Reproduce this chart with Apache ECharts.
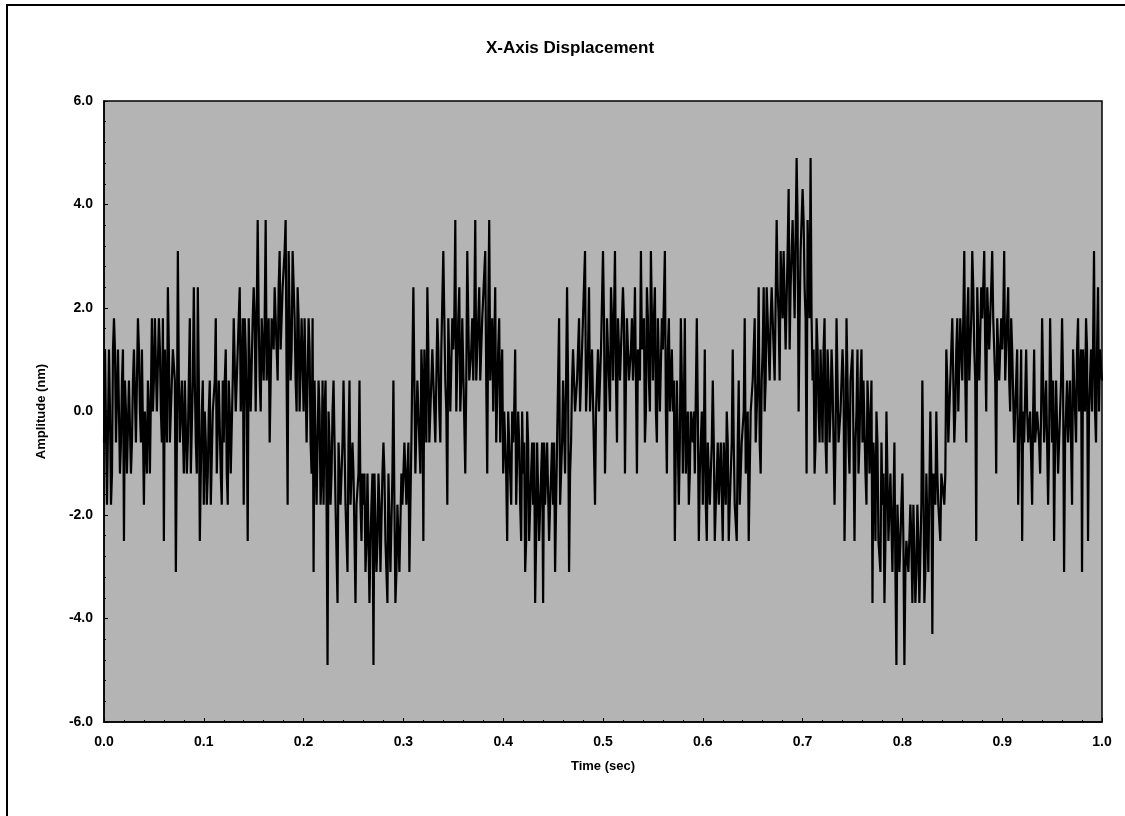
<!DOCTYPE html>
<html>
<head>
<meta charset="utf-8">
<script src="https://cdn.jsdelivr.net/npm/echarts@6/dist/echarts.min.js"></script>
<style>
  html, body { margin: 0; padding: 0; background: #ffffff; }
  #chart { width: 1125px; height: 816px; }
</style>
</head>
<body>
<div id="chart"></div>
<script>
// ---- Data ----
const chartTitle = 'X-Axis Displacement';
const xAxisName = 'Time (sec)';
const yAxisName = 'Amplitude (nm)';
const xTicks = [0.0, 0.1, 0.2, 0.3, 0.4, 0.5, 0.6, 0.7, 0.8, 0.9, 1.0];
const yTicks = [-6.0, -4.0, -2.0, 0.0, 2.0, 4.0, 6.0];
const samplePeriod = 0.001; // seconds between samples

// Amplitude samples (nm), 10 per 0.01 s block
const amplitude = [
  -0.6, 1.2, 1.2, -1.8, -1.8, 1.2, 0, -1.8, -1.2, 1.2,          // 0.00
  1.8, 1.2, -0.6, -0.6, 1.2, 1.2, -1.2, -0.6, 0.6, 1.2,         // 0.01
  -2.5, 0.6, 0, -1.2, -1.2, 0.6, 0.6, -1.2, -0.6, 0.6,          // 0.02
  1.2, 1.2, -0.6, -0.6, 1.8, 1.2, 0, -0.6, 1.2, 1.2,            // 0.03
  -1.8, 0, -0.6, -1.2, 0.6, 0, -1.2, -1.2, 1.8, 0,              // 0.04
  0.6, 1.8, 1.8, 0, 0, 1.8, 1.2, 0, -0.6, 1.8,                  // 0.05
  -2.5, 1.2, 1.2, -0.6, 2.4, 1.2, -0.6, -0.6, 0.6, 1.2,         // 0.06
  1.2, 0.6, -3.1, -0.6, 3.1, 0.6, -0.6, -0.6, 0.6, 0.6,         // 0.07
  -1.2, 0.6, 0.6, -1.2, -0.6, 0.6, 1.8, -1.2, -1.2, 0.6,        // 0.08
  2.4, 0.6, -0.6, -1.2, 2.4, 0.6, -2.5, -1.2, 0, 0.6,           // 0.09
  -1.8, 0, -0.6, -1.8, -1.2, 0, 0.6, -1.8, -1.8, 0,             // 0.10
  0, 0.6, 1.8, -1.2, -1.2, 0.6, 0.6, -1.2, -1.8, 0.6,           // 0.11
  -0.6, 0.6, 1.2, -1.2, -1.8, 0.6, 0, -1.2, -1.2, 0.6,          // 0.12
  1.8, 1.8, 0, 0, 1.2, 1.8, 2.4, 0, 0.6, 1.8,                   // 0.13
  -1.8, 1.8, 1.2, 0, -2.5, 1.8, 1.8, 0, 0, 1.8,                 // 0.14
  2.4, 1.8, 0, 0, 3.7, 1.8, 0.6, 0, 1.8, 1.8,                   // 0.15
  0.6, 1.8, 3.7, 0.6, 1.2, 1.8, -0.6, 0.6, 1.8, 1.8,            // 0.16
  1.2, 2.4, 2.4, 1.2, 0.6, 2.4, 3.1, 1.2, 1.8, 2.4,             // 0.17
  2.4, 3.1, 3.7, 0.6, -1.8, 3.1, 3.1, 0.6, 1.2, 3.1,            // 0.18
  3.1, 1.8, 0.6, 0, 2.4, 1.8, 0, 0, 1.8, 1.8,                   // 0.19
  0, 1.8, 1.8, -0.6, -0.6, 1.8, 1.2, -0.6, -1.2, 1.8,           // 0.20
  -3.1, 0.6, 0.6, -1.8, -1.8, 0.6, 0, -1.8, -1.2, 0.6,          // 0.21
  -1.8, 0, 0.6, -1.8, -4.9, 0, -0.6, -1.8, -1.2, 0,             // 0.22
  0.6, -0.6, -1.8, -1.8, -3.7, -0.6, -0.6, -1.8, -1.2, -0.6,    // 0.23
  0.6, -0.6, -1.8, -1.8, -3.1, -0.6, 0.6, -1.8, -1.2, -0.6,     // 0.24
  -1.2, -1.2, -3.7, -1.8, -1.8, -1.2, 0.6, -1.8, -2.5, -1.2,    // 0.25
  -1.8, -1.2, -3.1, -2.5, -1.2, -1.2, -3.7, -2.5, -1.8, -1.2,   // 0.26
  -4.9, -1.2, -1.2, -3.1, -2.5, -1.2, -1.8, -3.1, -3.1, -1.2,   // 0.27
  -0.6, -1.2, -2.5, -3.1, -3.7, -1.2, -1.2, -3.1, -3.1, -1.2,   // 0.28
  0.6, -1.8, -3.7, -3.1, -1.8, -1.8, -3.1, -3.1, -1.2, -1.8,    // 0.29
  -1.8, -0.6, -0.6, -1.8, -1.2, -0.6, -3.1, -1.8, -0.6, -0.6,   // 0.30
  2.4, 0.6, -1.2, -1.2, 0.6, 0.6, -0.6, -1.2, 1.2, 0.6,         // 0.31
  -2.5, 1.2, 1.2, -0.6, 2.4, 1.2, -0.6, -0.6, 0.6, 1.2,         // 0.32
  1.2, 1.2, -0.6, -0.6, 1.8, 1.2, 0, -0.6, 1.2, 1.2,            // 0.33
  3.1, 1.8, 0.6, 0, -1.8, 1.8, 1.8, 0, 0, 1.8,                  // 0.34
  1.2, 1.8, 3.7, 0, 0, 1.8, 2.4, 0, 0.6, 1.8,                   // 0.35
  1.8, 1.8, -1.2, 0.6, 3.1, 1.8, 0.6, 0.6, 1.2, 1.8,            // 0.36
  0.6, 1.8, 3.7, 0.6, 1.2, 1.8, 2.4, 0.6, 0.6, 1.8,             // 0.37
  1.8, 1.8, 3.1, 0.6, -1.2, 1.8, 3.7, 0.6, 1.2, 1.8,            // 0.38
  0, 1.2, 2.4, -0.6, -0.6, 1.2, 1.8, -0.6, 0.6, 1.2,            // 0.39
  -1.2, 0, 0, -1.2, -2.5, 0, -0.6, -1.2, -1.8, 0,               // 0.40
  -0.6, 0, 1.2, -1.8, -1.8, 0, -0.6, -1.8, -2.5, 0,             // 0.41
  -1.2, -0.6, -3.1, -2.5, 0, -0.6, -2.5, -2.5, -1.2, -0.6,      // 0.42
  -1.8, -0.6, -3.7, -2.5, -0.6, -0.6, -2.5, -2.5, -1.2, -0.6,   // 0.43
  -3.7, -0.6, -1.8, -1.8, -0.6, -0.6, -2.5, -1.8, -1.2, -0.6,   // 0.44
  -1.8, -0.6, -3.1, -1.8, -0.6, -0.6, 1.8, -1.8, -1.2, -0.6,    // 0.45
  0.6, 0.6, -1.2, -1.2, 2.4, 0.6, -3.1, -1.2, -0.6, 0.6,        // 0.46
  1.2, 1.2, 0, 0, 0.6, 1.2, 1.8, 0, 0, 1.2,                     // 0.47
  1.2, 1.2, 3.1, 0, 0, 1.2, 2.4, 0, 0.6, 1.2,                   // 0.48
  1.2, 1.2, -1.8, 0, 0.6, 1.2, 0, 0, 1.2, 1.2,                  // 0.49
  3.1, 1.8, -1.2, 0, 1.8, 1.8, 0.6, 0, 2.4, 1.8,                // 0.50
  0.6, 1.8, 3.1, 0.6, -0.6, 1.8, 1.8, 0.6, 1.2, 1.8,            // 0.51
  2.4, 1.8, -1.2, 0.6, 1.8, 1.8, 0.6, 0.6, 1.2, 1.8,            // 0.52
  0.6, 1.2, 2.4, 0.6, -1.2, 1.2, 1.2, 0.6, 3.1, 1.2,            // 0.53
  1.2, 1.8, -0.6, 0, 2.4, 1.8, 0.6, 0, 3.1, 1.8,                // 0.54
  0.6, 1.8, 2.4, 0, -0.6, 1.8, 1.8, 0, 0, 1.8,                  // 0.55
  1.2, 1.2, 3.1, 0, -1.2, 1.2, 1.8, 0, 0.6, 1.2,                // 0.56
  0, 0.6, -2.5, -0.6, 0.6, 0.6, -1.8, -0.6, 1.8, 0.6,           // 0.57
  -1.2, 0, 1.8, -1.2, -0.6, 0, -1.8, -1.2, 0, 0,                // 0.58
  -0.6, 0, -1.2, -1.2, 1.8, 0, -2.5, -1.2, -0.6, 0,             // 0.59
  -1.8, -0.6, 1.2, -1.8, -2.5, -0.6, -0.6, -1.8, -1.2, -0.6,    // 0.60
  0.6, -0.6, -2.5, -1.8, -1.2, -0.6, -1.8, -1.8, -0.6, -0.6,    // 0.61
  -2.5, -0.6, -1.2, -1.8, 0, -0.6, -2.5, -1.8, -1.8, -0.6,      // 0.62
  1.2, -0.6, -1.8, -1.8, -2.5, -0.6, 0.6, -1.8, -1.2, -0.6,     // 0.63
  -0.6, 0, 1.8, -1.2, -1.2, 0, -2.5, -1.2, 0, 0,                // 0.64
  0.6, 0.6, 1.8, -0.6, -0.6, 0.6, 2.4, -0.6, -1.2, 0.6,         // 0.65
  1.2, 2.4, 0, 0.6, 2.4, 2.4, 1.2, 0.6, 1.8, 2.4,               // 0.66
  2.4, 2.4, 0.6, 0.6, 3.7, 2.4, 1.8, 0.6, 3.1, 2.4,             // 0.67
  1.8, 3.1, 3.1, 1.2, 1.2, 3.1, 4.3, 1.2, 2.4, 3.1,             // 0.68
  3.7, 3.7, 1.8, 1.8, 4.9, 3.7, 0, 1.8, 3.1, 3.7,               // 0.69
  4.3, 3.7, 2.4, 1.8, -1.2, 3.7, 3.7, 1.8, 4.9, 1.8,            // 0.70
  0.6, 1.2, -1.2, -0.6, 1.8, 1.2, 0, -0.6, 1.2, 1.2,            // 0.71
  -0.6, 1.2, 1.8, -0.6, -1.2, 1.2, 0.6, -0.6, 0, 1.2,           // 0.72
  0.6, 0.6, -1.8, -0.6, 1.8, 0.6, -0.6, -0.6, 0, 0.6,           // 0.73
  1.2, 0.6, -2.5, -1.2, 1.8, 0.6, -0.6, -1.2, 0.6, 0.6,         // 0.74
  1.2, 1.2, -2.5, -0.6, 0, 1.2, -1.2, -0.6, 0.6, 1.2,           // 0.75
  -0.6, 0.6, 0.6, -1.2, -1.8, 0.6, 0, -1.2, -1.2, 0.6,          // 0.76
  -3.7, -0.6, -1.2, -2.5, 0, -0.6, -2.5, -2.5, -3.1, -0.6,      // 0.77
  -1.8, -1.2, -3.7, -2.5, 0, -1.2, -2.5, -2.5, -1.2, -1.2,      // 0.78
  -3.1, -1.8, -0.6, -3.1, -4.9, -1.8, -1.8, -3.1, -2.5, -1.8,   // 0.79
  -1.2, -2.5, -4.9, -3.1, -2.5, -2.5, -3.1, -3.1, -1.8, -2.5,   // 0.80
  -3.7, -1.8, -1.8, -3.7, -3.1, -1.8, -2.5, -3.7, -3.7, -1.8,   // 0.81
  0.6, -1.2, -3.7, -3.1, -1.2, -1.2, -3.1, -3.1, 0, -1.2,       // 0.82
  -4.3, -1.2, -1.2, -1.8, 0, -1.2, -1.8, -1.8, -2.5, -1.2,      // 0.83
  -1.2, -1.2, -1.8, -1.2, 1.2, 0.6, -0.6, -0.6, 0.6, 0.6,       // 0.84
  1.8, 1.8, -0.6, 0, 1.2, 1.8, 0, 0, 1.8, 1.8,                  // 0.85
  0.6, 1.8, 3.1, 0.6, -0.6, 1.8, 2.4, 0.6, 1.2, 1.8,            // 0.86
  3.1, 2.4, 1.2, 0.6, -2.5, 2.4, 2.4, 0.6, 0.6, 2.4,            // 0.87
  1.8, 2.4, 3.1, 1.2, 0, 2.4, 2.4, 1.2, 1.2, 2.4,               // 0.88
  3.1, 1.8, 1.2, 0.6, -1.2, 1.8, 1.8, 0.6, 0.6, 1.8,            // 0.89
  1.2, 1.8, 3.1, 0.6, 0.6, 1.8, 2.4, 0.6, 0, 1.8,               // 0.90
  1.2, 1.2, -0.6, -0.6, 0.6, 1.2, -1.8, -0.6, 0, 1.2,           // 0.91
  -2.5, 0, -0.6, -0.6, 1.2, 0, -0.6, -0.6, 0, 0,                // 0.92
  -1.8, 0, 1.2, -0.6, -0.6, 0, 0, -0.6, -1.2, 0,                // 0.93
  1.8, 0.6, -0.6, -0.6, 0.6, 0.6, -1.8, -0.6, 1.8, 0.6,         // 0.94
  -0.6, 0.6, -2.5, -0.6, 0.6, 0.6, -1.2, -0.6, 0, 0.6,          // 0.95
  1.8, 0.6, -3.1, -0.6, 0, 0.6, -0.6, -0.6, 0.6, 0.6,           // 0.96
  -1.8, 1.2, 1.2, 0, -0.6, 1.2, 1.8, 0, 0, 1.2,                 // 0.97
  -3.1, 1.2, 1.2, 0, 1.8, 1.2, -2.5, 0, 0.6, 1.2,               // 0.98
  0, 1.2, 3.1, 0, -0.6, 1.2, 2.4, 0, 1.2, 1.2,                  // 0.99
  0.6                                                           // 1.00
];

const seriesData = amplitude.map((v, i) => [+(i * samplePeriod).toFixed(3), v]);

const chart = echarts.init(document.getElementById('chart'), null, { renderer: 'canvas' });
const fontFamily = '"Liberation Sans", Arial, Helvetica, sans-serif';

chart.setOption({
  animation: false,
  backgroundColor: '#ffffff',
  title: {
    text: chartTitle,
    left: 565,
    top: 35,
    textAlign: 'center',
    textStyle: { fontFamily, fontWeight: 'bold', fontSize: 17, color: '#000' }
  },
  graphic: [{
    type: 'rect',
    shape: { x: 7, y: 5, width: 1140, height: 840 },
    style: { fill: null, stroke: '#000', lineWidth: 2 },
    silent: true
  }],
  grid: {
    left: 104, right: 23, top: 101, bottom: 94,
    show: true,
    backgroundColor: '#b4b4b4',
    borderColor: '#000',
    borderWidth: 1.5
  },
  xAxis: {
    type: 'value',
    min: xTicks[0], max: xTicks[xTicks.length - 1], interval: 0.1,
    name: xAxisName,
    nameLocation: 'middle',
    nameGap: 38,
    nameTextStyle: { fontFamily, fontWeight: 'bold', fontSize: 13, color: '#000' },
    axisLine: { show: true, onZero: false, lineStyle: { color: '#000', width: 1.5 } },
    axisTick: { show: true, inside: true, length: 4, lineStyle: { color: '#000' } },
    minorTick: { show: true, splitNumber: 5, length: 2, lineStyle: { color: '#000' } },
    splitLine: { show: false },
    axisLabel: {
      fontFamily, fontWeight: 'bold', fontSize: 14, color: '#000', margin: 13,
      formatter: v => v.toFixed(1)
    }
  },
  yAxis: {
    type: 'value',
    min: yTicks[0], max: yTicks[yTicks.length - 1], interval: 2,
    name: yAxisName,
    nameLocation: 'middle',
    nameGap: 56,
    nameRotate: 90,
    nameTextStyle: { fontFamily, fontWeight: 'bold', fontSize: 13, color: '#000' },
    axisLine: { show: true, lineStyle: { color: '#000', width: 1.5 } },
    axisTick: { show: true, inside: true, length: 4, lineStyle: { color: '#000' } },
    minorTick: { show: true, splitNumber: 5, length: 2, lineStyle: { color: '#000' } },
    splitLine: { show: false },
    axisLabel: {
      fontFamily, fontWeight: 'bold', fontSize: 14, color: '#000', margin: 11,
      formatter: v => v.toFixed(1)
    }
  },
  series: [{
    type: 'line',
    data: seriesData,
    showSymbol: false,
    symbol: 'none',
    sampling: null,
    lineStyle: { color: '#000000', width: 2.2 },
    clip: true
  }]
});
</script>
</body>
</html>
